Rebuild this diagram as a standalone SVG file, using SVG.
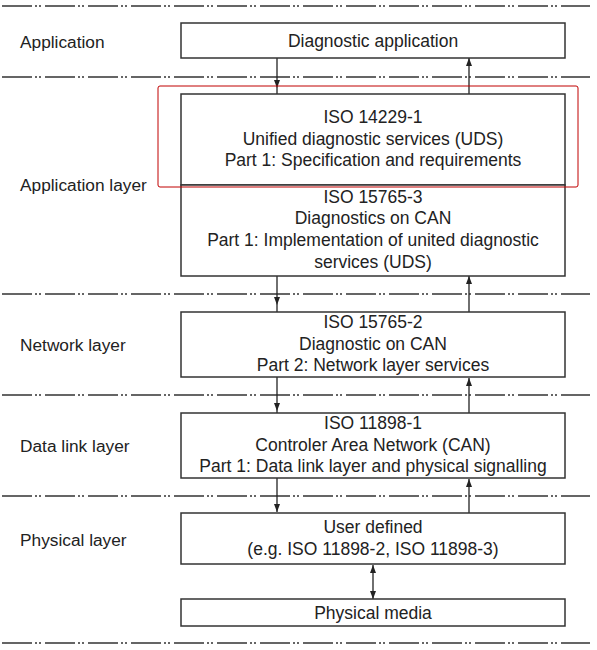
<svg xmlns="http://www.w3.org/2000/svg" width="597" height="650" viewBox="0 0 597 650">
<style>
.sep{stroke:#333;stroke-width:1.5;stroke-dasharray:30 3 2 2 2 4;fill:none}
.box{fill:#fff;stroke:#333;stroke-width:1.5}
.t{font-family:"Liberation Sans",Arial,sans-serif;font-size:17.5px;fill:#222;text-anchor:middle}
.l{font-family:"Liberation Sans",Arial,sans-serif;font-size:17.3px;fill:#222}
.c{stroke:#222;stroke-width:1.3;fill:none}
</style>
<defs>
<marker id="ah" viewBox="0 0 8 6" refX="8" refY="3" markerWidth="8" markerHeight="6" markerUnits="userSpaceOnUse" orient="auto-start-reverse">
<path d="M0,0 L8,3 L0,6 Z" fill="#222"/>
</marker>
</defs>
<rect width="597" height="650" fill="#fff"/>
<g id="separators">
<line class="sep" x1="2" y1="6" x2="590" y2="6"/>
<line class="sep" x1="2" y1="77" x2="590" y2="77"/>
<line class="sep" x1="2" y1="294" x2="590" y2="294"/>
<line class="sep" x1="2" y1="395" x2="590" y2="395"/>
<line class="sep" x1="2" y1="496" x2="590" y2="496"/>
<line class="sep" x1="2" y1="643" x2="590" y2="643"/>
</g>
<g id="layer-labels">
<text class="l" x="20" y="48">Application</text>
<text class="l" x="20" y="191">Application layer</text>
<text class="l" x="20" y="351">Network layer</text>
<text class="l" x="20" y="452">Data link layer</text>
<text class="l" x="20" y="546">Physical layer</text>
</g>
<g id="connectors">
<line class="c" x1="277" y1="58" x2="277" y2="88" marker-end="url(#ah)"/>
<line class="c" x1="277" y1="88" x2="277" y2="94"/>
<line class="c" x1="469" y1="94" x2="469" y2="58" marker-end="url(#ah)"/>
<line class="c" x1="277" y1="276" x2="277" y2="305" marker-end="url(#ah)"/>
<line class="c" x1="277" y1="305" x2="277" y2="312"/>
<line class="c" x1="469" y1="312" x2="469" y2="276" marker-end="url(#ah)"/>
<line class="c" x1="277" y1="377" x2="277" y2="411" marker-end="url(#ah)"/>
<line class="c" x1="277" y1="411" x2="277" y2="413"/>
<line class="c" x1="469" y1="413" x2="469" y2="378" marker-end="url(#ah)"/>
<line class="c" x1="277" y1="478" x2="277" y2="512" marker-end="url(#ah)"/>
<line class="c" x1="469" y1="513" x2="469" y2="479" marker-end="url(#ah)"/>
<line class="c" x1="373" y1="565" x2="373" y2="599" marker-start="url(#ah)" marker-end="url(#ah)"/>
</g>
<g id="diagnostic-application">
<rect class="box" x="181" y="23" width="384" height="35"/>
<text class="t" x="373" y="47">Diagnostic application</text>
</g>
<g id="iso-14229-1">
<rect class="box" x="181" y="94" width="384" height="91"/>
<text class="t" x="373" y="123">ISO 14229-1</text>
<text class="t" x="373" y="145">Unified diagnostic services (UDS)</text>
<text class="t" x="373" y="166">Part 1: Specification and requirements</text>
</g>
<g id="iso-15765-3">
<rect class="box" x="181" y="185" width="384" height="91"/>
<text class="t" x="373" y="203">ISO 15765-3</text>
<text class="t" x="373" y="224">Diagnostics on CAN</text>
<text class="t" x="373" y="246">Part 1: Implementation of united diagnostic</text>
<text class="t" x="373" y="268">services (UDS)</text>
</g>
<g id="highlight">
<rect x="158" y="86" width="420" height="101" rx="2" fill="none" stroke="#c00000" stroke-width="1"/>
</g>
<g id="iso-15765-2">
<rect class="box" x="181" y="312" width="384" height="65"/>
<text class="t" x="373" y="328">ISO 15765-2</text>
<text class="t" x="373" y="350">Diagnostic on CAN</text>
<text class="t" x="373" y="371">Part 2: Network layer services</text>
</g>
<g id="iso-11898-1">
<rect class="box" x="181" y="413" width="384" height="65"/>
<text class="t" x="373" y="429">ISO 11898-1</text>
<text class="t" x="373" y="451">Controler Area Network (CAN)</text>
<text class="t" x="373" y="472">Part 1: Data link layer and physical signalling</text>
</g>
<g id="user-defined">
<rect class="box" x="181" y="513" width="384" height="51"/>
<text class="t" x="373" y="533">User defined</text>
<text class="t" x="373" y="555">(e.g. ISO 11898-2, ISO 11898-3)</text>
</g>
<g id="physical-media">
<rect class="box" x="181" y="599" width="384" height="27"/>
<text class="t" x="373" y="619">Physical media</text>
</g>
</svg>
